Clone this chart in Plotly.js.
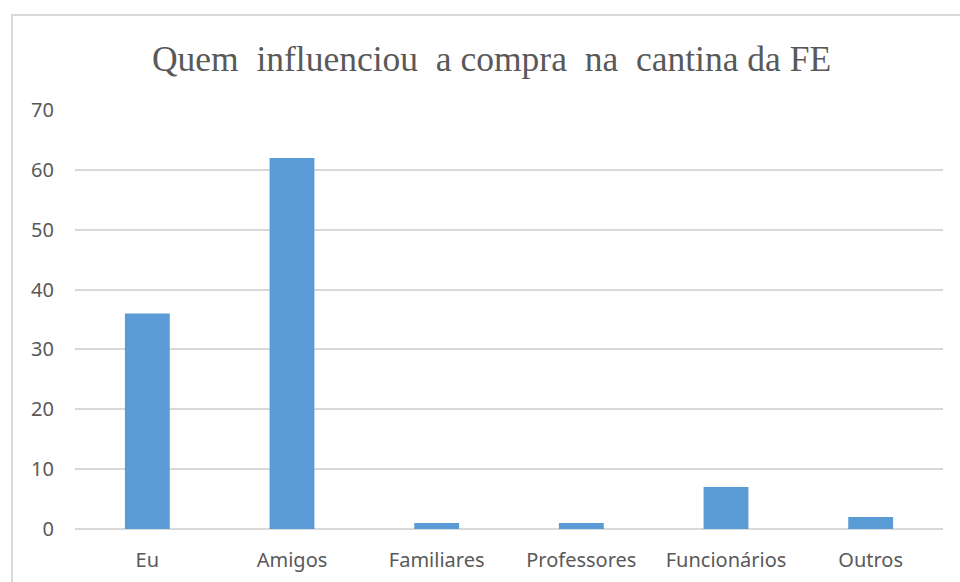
<!DOCTYPE html>
<html>
<head>
<meta charset="utf-8">
<script src="https://cdn.plot.ly/plotly-3.0.1.min.js"></script>
<style>
html,body{margin:0;padding:0;background:#fff;}
#chart{width:960px;height:582px;position:absolute;left:0;top:0;}
#frame{position:absolute;left:11px;top:14px;width:960px;height:600px;border:2px solid #d9d9d9;pointer-events:none;box-sizing:border-box;}
</style>
</head>
<body>
<div id="chart"></div>
<div id="frame"></div>
<script>
const categories = ["Eu", "Amigos", "Familiares", "Professores", "Funcionários", "Outros"];
const values = [36, 62, 1, 1, 7, 2];
const yTicks = [0, 10, 20, 30, 40, 50, 60, 70];

Plotly.newPlot("chart", [{
  type: "bar",
  x: categories,
  y: values,
  marker: {color: "#5b9bd5"},
  hoverinfo: "x+y"
}], {
  width: 960,
  height: 582,
  margin: {l: 75, r: 17, t: 110, b: 53},
  paper_bgcolor: "rgba(0,0,0,0)",
  plot_bgcolor: "rgba(0,0,0,0)",
  bargap: 0.69,
  title: {
    text: "Quem  influenciou  a compra  na  cantina da FE",
    font: {family: "Liberation Serif, Times New Roman, serif", size: 35.5, color: "#595959"},
    x: 0.512, xanchor: "center", y: 0.9, yanchor: "middle"
  },
  xaxis: {
    showgrid: false, showline: false, zeroline: false, ticks: "",
    tickfont: {family: "Noto Sans, Open Sans, sans-serif", size: 20, color: "#595959"},
    ticklabelstandoff: 17
  },
  yaxis: {
    range: [0, 70], tickvals: yTicks, ticktext: yTicks.map(String),
    showgrid: true, gridcolor: "#d9d9d9", gridwidth: 2,
    zeroline: true, zerolinecolor: "#d9d9d9", zerolinewidth: 2,
    showline: false, ticks: "",
    tickfont: {family: "Noto Sans, Open Sans, sans-serif", size: 20, color: "#595959"},
    ticklabelstandoff: 20
  },
  showlegend: false
}, {displayModeBar: false, staticPlot: true});
</script>
</body>
</html>
